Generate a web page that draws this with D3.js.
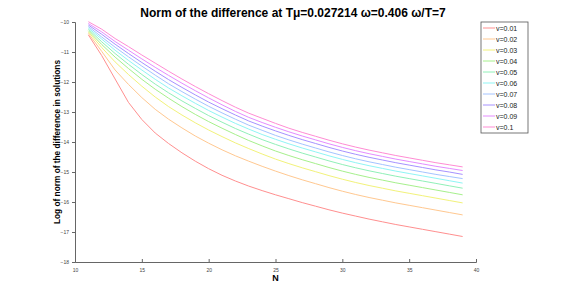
<!DOCTYPE html>
<html>
<head>
<meta charset="utf-8">
<script src="https://cdn.jsdelivr.net/npm/d3@7"></script>
<style>
  body { margin: 0; background: #fff; }
  svg { font-family: "Liberation Sans", Arial, sans-serif; display: block; }
</style>
</head>
<body>
<div id="chart"></div>
<script>
// chart data
const nValues = [11, 12, 13, 14, 15, 16, 17, 18, 19, 20, 21, 22, 23, 24, 25,
                 26, 27, 28, 29, 30, 31, 32, 33, 34, 35, 36, 37, 38, 39];

const v001 = [-10.43, -11.12, -11.90, -12.68, -13.25, -13.70, -14.05, -14.36, -14.64, -14.89, -15.11, -15.30, -15.47, -15.62, -15.76,
              -15.89, -16.02, -16.14, -16.26, -16.37, -16.47, -16.57, -16.66, -16.75, -16.83, -16.91, -16.99, -17.07, -17.15];
const v002 = [-10.38, -10.98, -11.60, -12.08, -12.52, -12.91, -13.24, -13.53, -13.80, -14.04, -14.26, -14.46, -14.64, -14.81, -14.97,
              -15.12, -15.26, -15.39, -15.52, -15.64, -15.75, -15.85, -15.94, -16.03, -16.11, -16.19, -16.27, -16.35, -16.43];
const v003 = [-10.33, -10.85, -11.33, -11.75, -12.14, -12.50, -12.82, -13.10, -13.36, -13.60, -13.82, -14.03, -14.22, -14.40, -14.57,
              -14.72, -14.86, -14.99, -15.12, -15.24, -15.35, -15.45, -15.54, -15.63, -15.71, -15.79, -15.87, -15.95, -16.03];
const v004 = [-10.29, -10.75, -11.17, -11.55, -11.91, -12.24, -12.54, -12.82, -13.08, -13.32, -13.54, -13.75, -13.95, -14.13, -14.30,
              -14.45, -14.59, -14.72, -14.85, -14.97, -15.08, -15.18, -15.27, -15.36, -15.44, -15.52, -15.60, -15.68, -15.76];
const v005 = [-10.24, -10.66, -11.05, -11.41, -11.75, -12.07, -12.36, -12.63, -12.88, -13.12, -13.34, -13.55, -13.74, -13.92, -14.08,
              -14.23, -14.37, -14.50, -14.63, -14.75, -14.86, -14.96, -15.05, -15.14, -15.22, -15.30, -15.38, -15.46, -15.54];
const v006 = [-10.20, -10.57, -10.94, -11.28, -11.60, -11.91, -12.20, -12.46, -12.71, -12.95, -13.17, -13.38, -13.57, -13.75, -13.91,
              -14.06, -14.20, -14.33, -14.46, -14.58, -14.69, -14.79, -14.88, -14.97, -15.05, -15.13, -15.21, -15.29, -15.37];
const v007 = [-10.15, -10.50, -10.84, -11.16, -11.47, -11.77, -12.06, -12.32, -12.57, -12.81, -13.03, -13.24, -13.44, -13.61, -13.78,
              -13.93, -14.07, -14.20, -14.33, -14.45, -14.56, -14.66, -14.75, -14.84, -14.92, -15.00, -15.08, -15.15, -15.22];
const v008 = [-10.10, -10.41, -10.74, -11.05, -11.35, -11.64, -11.92, -12.18, -12.43, -12.67, -12.89, -13.10, -13.30, -13.47, -13.63,
              -13.78, -13.92, -14.05, -14.18, -14.30, -14.41, -14.51, -14.60, -14.69, -14.77, -14.85, -14.93, -15.00, -15.08];
const v009 = [-10.05, -10.33, -10.65, -10.94, -11.23, -11.51, -11.78, -12.04, -12.29, -12.53, -12.76, -12.98, -13.18, -13.35, -13.51,
              -13.66, -13.80, -13.93, -14.06, -14.18, -14.29, -14.39, -14.48, -14.57, -14.65, -14.73, -14.81, -14.88, -14.95];
const v010 = [-9.99, -10.24, -10.55, -10.82, -11.10, -11.37, -11.64, -11.90, -12.15, -12.39, -12.62, -12.84, -13.04, -13.21, -13.38,
              -13.54, -13.68, -13.81, -13.94, -14.06, -14.17, -14.27, -14.36, -14.45, -14.53, -14.61, -14.69, -14.76, -14.83];

const seriesNames = ["v=0.01", "v=0.02", "v=0.03", "v=0.04", "v=0.05",
                     "v=0.06", "v=0.07", "v=0.08", "v=0.09", "v=0.1"];
const seriesColors = ["#ff8f8f", "#ffc890", "#f2f27a", "#a6f08c", "#90f0b8",
                      "#8ff5f5", "#a4c4ff", "#a692ff", "#e48cff", "#ff8cd4"];
const seriesValues = [v001, v002, v003, v004, v005, v006, v007, v008, v009, v010];

const xTicks = [10, 15, 20, 25, 30, 35, 40];
const yTicks = [-18, -17, -16, -15, -14, -13, -12, -11, -10];

const width = 581;
const height = 294;
const plot = { left: 75, right: 476, top: 22, bottom: 262 };

var svg = d3.select("#chart")
    .append("svg")
    .attr("width", width)
    .attr("height", height);

var x = d3.scaleLinear().domain([10, 40]).range([plot.left, plot.right]);
var y = d3.scaleLinear().domain([-18, -10]).range([plot.bottom, plot.top]);

// axes
var xAxis = svg.append("g")
    .attr("transform", "translate(0," + plot.bottom + ")")
    .call(d3.axisBottom(x).tickValues(xTicks).tickSize(-3).tickPadding(6));
var yAxis = svg.append("g")
    .attr("transform", "translate(" + plot.left + ",0)")
    .call(d3.axisLeft(y).tickValues(yTicks).tickSize(3).tickPadding(3)
        .tickFormat(d => "\u2212" + Math.abs(d)));

[xAxis, yAxis].forEach(function (g) {
    g.select(".domain").attr("stroke", "#666").attr("stroke-width", 1);
    g.selectAll(".tick line").attr("stroke", "#666");
    g.selectAll(".tick text").attr("fill", "#444").style("font-size", "5px")
        .style("font-family", "'Liberation Sans', Arial, sans-serif");
});

// lines
var line = d3.line()
    .x((d, i) => x(nValues[i]))
    .y(d => y(d));

svg.append("g").selectAll("path")
    .data(seriesValues)
    .enter().append("path")
    .attr("d", line)
    .attr("fill", "none")
    .attr("stroke", (d, i) => seriesColors[i])
    .attr("stroke-width", 1);

// titles
svg.append("text")
    .attr("x", 293)
    .attr("y", 17)
    .attr("text-anchor", "middle")
    .style("font-size", "12px")
    .style("font-weight", "bold")
    .text("Norm of the difference at T\u03bc=0.027214 \u03c9=0.406 \u03c9/T=7");

svg.append("text")
    .attr("x", x(25))
    .attr("y", 281)
    .attr("text-anchor", "middle")
    .style("font-size", "9px")
    .style("font-weight", "bold")
    .text("N");

svg.append("text")
    .attr("transform", "translate(60," + y(-14) + ") rotate(-90)")
    .attr("text-anchor", "middle")
    .style("font-size", "8.3px")
    .style("font-weight", "bold")
    .text("Log of norm of the difference in solutions");

// legend
var legend = svg.append("g").attr("transform", "translate(481,22)");
legend.append("rect")
    .attr("width", 47)
    .attr("height", 111)
    .attr("fill", "#fff")
    .attr("stroke", "#555")
    .attr("stroke-width", 0.8);

var item = legend.selectAll(".item")
    .data(seriesNames)
    .enter().append("g")
    .attr("class", "item")
    .attr("transform", (d, i) => "translate(0," + (6 + i * 11) + ")");
item.append("line")
    .attr("x1", 2).attr("x2", 14)
    .attr("stroke", (d, i) => seriesColors[i])
    .attr("stroke-width", 1);
item.append("text")
    .attr("x", 15)
    .attr("y", 2.5)
    .style("font-size", "7px")
    .attr("fill", "#222")
    .text(d => d);
</script>
</body>
</html>
